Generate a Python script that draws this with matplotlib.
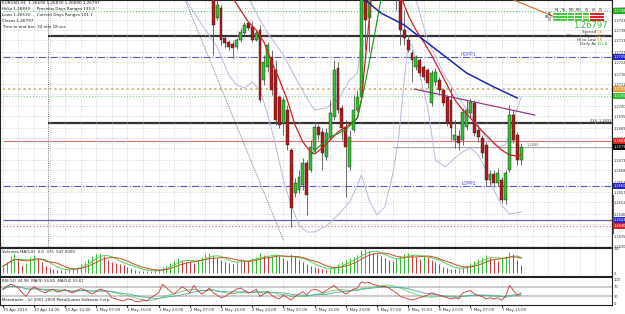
import numpy as np
import pandas as pd
import matplotlib
matplotlib.use("Agg")
import matplotlib.pyplot as plt
from matplotlib.patches import Rectangle

# ---- data (EURUSD H1) ----
first_bar = 54  # earlier candles are above the visible price range
opens = [1.27580, 1.27440, 1.27490, 1.27340, 1.27320, 1.27310, 1.27295, 1.27330, 1.27365, 1.27415,
         1.27395, 1.27330, 1.27380, 1.27130, 1.27195, 1.27245, 1.27180, 1.27045, 1.26915, 1.26980,
         1.26780, 1.26565, 1.26580, 1.26605, 1.26715, 1.26680, 1.26780, 1.26895, 1.26870, 1.26745,
         1.26845, 1.26945, 1.27190, 1.26990, 1.26895, 1.26695, 1.26880, 1.26980, 1.27045, 1.27830,
         1.27440, 1.27630, 1.27780, 1.27730, 1.27830, 1.27755, 1.27680, 1.27630, 1.27555, 1.27380,
         1.27330, 1.27265, 1.27195, 1.27230, 1.27195, 1.27180, 1.27015, 1.27120, 1.27130, 1.27080,
         1.27045, 1.27030, 1.26830, 1.26850, 1.26830, 1.26895, 1.26965, 1.27015, 1.26880, 1.26840,
         1.26805, 1.26630, 1.26660, 1.26615, 1.26630, 1.26530, 1.26680, 1.26955, 1.26855, 1.26730]
highs = [1.27655, 1.27530, 1.27505, 1.27350, 1.27330, 1.27325, 1.27340, 1.27390, 1.27420, 1.27425,
         1.27420, 1.27380, 1.27405, 1.27255, 1.27320, 1.27280, 1.27230, 1.27055, 1.27045, 1.27005,
         1.26790, 1.26640, 1.26680, 1.26740, 1.26730, 1.26830, 1.26920, 1.26910, 1.26890, 1.26890,
         1.27030, 1.27230, 1.27220, 1.27005, 1.26930, 1.26880, 1.27055, 1.27080, 1.27880, 1.27980,
         1.27730, 1.27830, 1.27905, 1.27880, 1.27930, 1.27830, 1.27780, 1.27705, 1.27605, 1.27480,
         1.27355, 1.27280, 1.27255, 1.27240, 1.27205, 1.27190, 1.27180, 1.27190, 1.27145, 1.27090,
         1.27055, 1.27090, 1.26930, 1.26880, 1.26990, 1.27030, 1.27040, 1.27030, 1.26905, 1.26855,
         1.26820, 1.26680, 1.26680, 1.26690, 1.26645, 1.26680, 1.27005, 1.26980, 1.26870, 1.26815]
lows = [1.27255, 1.27430, 1.27305, 1.27290, 1.27280, 1.27240, 1.27285, 1.27320, 1.27355, 1.27380,
        1.27320, 1.27325, 1.27020, 1.27105, 1.27170, 1.27055, 1.26905, 1.26890, 1.26855, 1.26780,
        1.26395, 1.26545, 1.26565, 1.26580, 1.26455, 1.26670, 1.26765, 1.26830, 1.26680, 1.26730,
        1.26830, 1.26930, 1.26965, 1.26830, 1.26545, 1.26680, 1.26870, 1.26970, 1.27030, 1.27280,
        1.27270, 1.27555, 1.27680, 1.27630, 1.27705, 1.27605, 1.27555, 1.27480, 1.27305, 1.27305,
        1.27270, 1.27120, 1.27180, 1.27150, 1.27130, 1.27090, 1.27000, 1.27105, 1.27055, 1.27000,
        1.26900, 1.26830, 1.26790, 1.26780, 1.26805, 1.26880, 1.26940, 1.26850, 1.26820, 1.26740,
        1.26600, 1.26605, 1.26595, 1.26600, 1.26515, 1.26510, 1.26670, 1.26815, 1.26705, 1.26705]
closes = [1.27405, 1.27505, 1.27330, 1.27315, 1.27295, 1.27290, 1.27330, 1.27370, 1.27405, 1.27390,
          1.27330, 1.27365, 1.27030, 1.27220, 1.27305, 1.27080, 1.26930, 1.26905, 1.27030, 1.26805,
          1.26490, 1.26615, 1.26645, 1.26715, 1.26555, 1.26795, 1.26895, 1.26855, 1.26765, 1.26865,
          1.26965, 1.27180, 1.26980, 1.26890, 1.26795, 1.26845, 1.26980, 1.27045, 1.27830, 1.27430,
          1.27630, 1.27780, 1.27730, 1.27830, 1.27755, 1.27680, 1.27630, 1.27555, 1.27380, 1.27340,
          1.27280, 1.27230, 1.27245, 1.27165, 1.27145, 1.27115, 1.27165, 1.27170, 1.27080, 1.27015,
          1.26915, 1.26890, 1.26855, 1.26815, 1.26970, 1.26980, 1.27020, 1.26865, 1.26845, 1.26765,
          1.26630, 1.26660, 1.26615, 1.26665, 1.26530, 1.26665, 1.26955, 1.26830, 1.26730, 1.26795]

# moving averages / bands on the price panel (bar index, price)
fast_ma_idx = [55, 59, 61, 63, 65, 67, 69, 71, 73, 75, 77, 79, 80, 82, 84, 86, 88, 90, 91, 92, 93, 94, 95, 98,
               100, 102, 104, 106, 108, 110, 112, 114, 116, 118, 120, 122, 124, 126, 128, 130, 132, 133]
fast_ma = [1.27680, 1.27540, 1.27480, 1.27420, 1.27380, 1.27320, 1.27220, 1.27130, 1.27030, 1.26905, 1.26820,
           1.26770, 1.26760, 1.26790, 1.26830, 1.26870, 1.26895, 1.26920, 1.26940, 1.27030, 1.27230, 1.27430,
           1.27630, 1.27730, 1.27680, 1.27555, 1.27455, 1.27380, 1.27320, 1.27255, 1.27180, 1.27105, 1.27030,
           1.26980, 1.26940, 1.26895, 1.26855, 1.26815, 1.26780, 1.26755, 1.26750, 1.26755]
green_ma_idx = [79, 81, 84, 88, 91, 93, 95, 97, 98]
green_ma = [1.26755, 1.26795, 1.26845, 1.26880, 1.26940, 1.27115, 1.27315, 1.27530, 1.27630]
slow_ma_idx = [91, 93, 97, 103, 108, 113, 119, 126, 132]
slow_ma = [1.27600, 1.27530, 1.27465, 1.27405, 1.27330, 1.27255, 1.27165, 1.27095, 1.27040]
bb_up_idx = [62, 66, 68, 72, 75, 78, 80, 83, 86, 89, 91, 92, 93, 104, 106, 109, 113, 117, 121, 124, 127, 129, 131, 133]
bb_up = [1.27580, 1.27430, 1.27365, 1.27255, 1.27145, 1.27040, 1.26980, 1.26990, 1.27030, 1.27130, 1.27165,
         1.27330, 1.27780, 1.27730, 1.27530, 1.27330, 1.27165, 1.27040, 1.26930, 1.26840, 1.26795, 1.26805,
         1.26930, 1.27045]
bb_lo_idx = [47, 52, 55, 58, 60, 62, 64, 66, 68, 70, 72, 74, 76, 78, 80, 83, 86, 89, 91, 92, 94, 96, 98, 100,
             101.5, 103, 104, 105, 107, 109, 111, 113.5, 116, 118, 120, 122, 124, 126, 128, 130, 133]
bb_lo = [1.27530, 1.27380, 1.27295, 1.27155, 1.27105, 1.27090, 1.27120, 1.27080, 1.26955, 1.26805, 1.26630,
         1.26505, 1.26405, 1.26370, 1.26370, 1.26400, 1.26455, 1.26520, 1.26605, 1.26655, 1.26530, 1.26455,
         1.26495, 1.26655, 1.26830, 1.27130, 1.27305, 1.27305, 1.27155, 1.26995, 1.26730, 1.26695, 1.26740,
         1.26770, 1.26790, 1.26755, 1.26680, 1.26580, 1.26505, 1.26460, 1.26470]
diag_idx = [46.8, 72.0]
diag_px = [1.27530, 1.26330]
orange_idx = [128.0, 141.7]
orange_px = [1.27555, 1.27445]

# horizontal levels: price, colour, style, width, starts at bar, axis label colour
levels = [(1.27475, "#66bb66", ":", 0.8, 0, "#22aa22"), (1.27350, "#333333", "-", 1.6, 11.5, None),
          (1.27245, "#5555cc", "-.", 0.8, 0, "#2222cc"), (1.27085, "#e0b070", ":", 1.4, 0, "#e0a040"),
          (1.27050, "#88cc88", ":", 0.8, 0, "#33bb33"), (1.26915, "#333333", "-", 1.6, 11.5, None),
          (1.26825, "#e07070", "-", 0.8, 0, "#dd2222"), (1.26795, "#999999", "-", 0.6, 100, "#000000"),
          (1.26600, "#5555cc", "-.", 0.8, 0, "#2222cc"), (1.26430, "#6060b0", "-", 0.9, 0, "#2222cc"),
          (1.26400, "#d08080", ":", 0.9, 0, "#dd2222")]
trend_idx = [105.5, 136.5]
trend_px = [1.27085, 1.26955]

price_ticks = [1.2630, 1.2635, 1.2641, 1.2646, 1.2652, 1.2657, 1.2662, 1.2668, 1.2673, 1.2679,
               1.2684, 1.2689, 1.2695, 1.2700, 1.2706, 1.2711, 1.2716, 1.2722, 1.2727, 1.2733,
               1.2738, 1.2743, 1.2749]

volumes = [150, 260, 380, 420, 300, 180, 220, 350, 400, 330,
           250, 160, 120, 90, 80, 70, 60, 90, 110, 150,
           200, 260, 320, 390, 420, 460, 380, 300, 260, 230,
           200, 180, 150, 120, 80, 60, 50, 40, 60, 70,
           90, 130, 170, 220, 280, 340, 300, 260, 250, 230,
           300, 360, 420, 450, 380, 330, 290, 250, 230, 200,
           260, 320, 300, 280, 330, 350, 440, 400, 360, 390,
           420, 380, 330, 300, 420, 380, 300, 250, 200, 160,
           130, 110, 90, 80, 100, 150, 200, 250, 300, 330,
           360, 400, 520, 540, 500, 460, 420, 380, 340, 300,
           280, 320, 380, 420, 450, 400, 360, 320, 380, 350,
           300, 250, 200, 150, 120, 100, 90, 110, 140, 180,
           230, 280, 320, 360, 400, 350, 300, 280, 330, 380,
           480, 420, 300, 180]

rsi = [60, 72, 80, 75, 65, 45, 30, 55, 70, 60,
       50, 45, 55, 60, 48, 52, 58, 50, 45, 55,
       62, 58, 48, 40, 52, 60, 55, 45, 25, 20,
       15, 12, 20, 18, 10, 8, 15, 12, 25, 35,
       45, 80, 65, 50, 40, 55, 70, 60, 45, 75,
       55, 40, 50, 65, 45, 35, 25, 30, 40, 50,
       60, 65, 55, 45, 50, 60, 30, 40, 50, 35,
       25, 20, 35, 25, 15, 30, 40, 50, 35, 55,
       60, 55, 45, 55, 65, 75, 60, 50, 40, 50,
       60, 65, 90, 85, 88, 80, 75, 70, 72, 65,
       55, 45, 30, 25, 20, 15, 20, 25, 30, 35,
       45, 40, 35, 30, 25, 20, 25, 20, 45, 50,
       55, 40, 35, 30, 20, 25, 20, 25, 15, 30,
       75, 55, 35, 45]

time_labels = ["30 Apr 2013", "30 Apr 14:00", "30 Apr 22:00", "1 May 07:00", "1 May 15:00",
               "1 May 23:00", "2 May 07:00", "2 May 15:00", "2 May 23:00", "3 May 07:00",
               "3 May 15:00", "3 May 23:00", "6 May 07:00", "6 May 15:00", "6 May 23:00",
               "7 May 07:00", "7 May 15:00"]

# multi-timeframe table in the top right corner
tf_names = ["M1", "M5", "M15", "M30", "H1", "H4", "D1"]
tf_rows = ["MA", "MACD", "CCI"]
tf_signal = [[1, 1, 1, 1, 1, -1, -1],
             [1, 1, 1, 1, 0, -1, -1],
             [1, 1, 1, 1, 1, -1, -1]]

# ---- figure ----
W, H = 625, 314
fig = plt.figure(figsize=(W / 100, H / 100), dpi=100)


def box(x0, y0, x1, y1):
    return [x0 / W, 1 - y1 / H, (x1 - x0) / W, (y1 - y0) / H]


ax = fig.add_axes(box(0, 0, 612, 247))
axv = fig.add_axes(box(0, 248, 612, 276))
axr = fig.add_axes(box(0, 277, 612, 305))
xlim = (-0.7, 156.3)

for a in (ax, axv, axr):
    a.set_xlim(*xlim)
    a.set_facecolor("white")
    a.tick_params(length=0, labelsize=2.6, pad=1.2, labelcolor="#333333")
    for s in a.spines.values():
        s.set_color("#222222")
        s.set_linewidth(0.8)
    a.set_xticks(np.arange(0, 157, 4))
    a.grid(True, axis="x", color="#c4c4c4", linestyle=(0, (1, 1.5)), linewidth=0.5)
    a.set_xticklabels([])
    a.yaxis.tick_right()

# price panel
ax.set_ylim(1.26295, 1.27530)
ax.set_yticks(price_ticks)
ax.set_yticklabels([f"{p:.4f}" for p in price_ticks])
ax.grid(True, axis="y", color="#c4c4c4", linestyle=(0, (1, 1.5)), linewidth=0.5)
ax.axvline(11.5, color="#777777", linestyle=(0, (1, 1.2)), linewidth=0.7, zorder=1)
ytrans = ax.get_yaxis_transform()

for p, c, ls, lw, x0, lab in levels:
    ax.hlines(p, x0, xlim[1], colors=c, linestyles=ls, linewidth=lw, zorder=1)
    if lab:
        ax.text(1.003, p, f"{p:.4f}", transform=ytrans, fontsize=2.6, va="center",
                ha="left", color="white", clip_on=False,
                bbox=dict(boxstyle="square,pad=0.15", fc=lab, ec="none"))

idx = np.arange(first_bar, first_bar + len(opens))
o, h, l, c = map(np.array, (opens, highs, lows, closes))
up = c >= o
ax.vlines(idx, l, h, color="#555555", linewidth=0.6, zorder=3)
ax.bar(idx[up], (c - o)[up], bottom=o[up], width=0.75, color="#2ec52e", edgecolor="#1a1a1a",
       linewidth=0.3, zorder=4)
ax.bar(idx[~up], (c - o)[~up], bottom=o[~up], width=0.75, color="#b81818", edgecolor="#1a1a1a",
       linewidth=0.3, zorder=4)

ax.plot(diag_idx, diag_px, color="#555555", linestyle=(0, (1, 1.3)), linewidth=0.6, zorder=2)
ax.plot(bb_up_idx, bb_up, color="#b8b8e0", linewidth=0.7, zorder=2)
ax.plot(bb_lo_idx, bb_lo, color="#b8b8e0", linewidth=0.7, zorder=2)
ax.plot(fast_ma_idx, fast_ma, color="#cc2222", linewidth=0.9, zorder=5)
ax.plot(green_ma_idx, green_ma, color="#119911", linewidth=0.8, zorder=5)
ax.plot(slow_ma_idx, slow_ma, color="#1a2aa8", linewidth=1.1, zorder=5)
ax.plot(trend_idx, trend_px, color="#8a2a7a", linewidth=0.8, zorder=5)
ax.plot(orange_idx, orange_px, color="#d07030", linewidth=0.8, zorder=5)

# header text
hdr = ["EURUSD,H1  1.26690 1.26830 1.26690 1.26797",
       "Hi/Lo 1.26830  -  Previous Days Ranges 135.3",
       "Lows 1.26510  -  Current Days Ranges 101.7",
       "Closes 1.26797",
       "Time to end bar: 34 min 18 sec"]
for k, t in enumerate(hdr):
    ax.text(0.004, 0.995 - k * 0.024, t, transform=ax.transAxes, fontsize=3.0, va="top", color="#222222")

ax.text(119.5, 1.27245, "HOPP1", fontsize=3.3, color="#5555cc", va="bottom", ha="center")
ax.text(119.5, 1.26600, "LOPP1", fontsize=3.3, color="#5555cc", va="bottom", ha="center")
ax.text(134.3, 1.26795, "1.2680", fontsize=2.6, color="#666666", va="bottom")
ax.text(0.999, 1.26915, "214  1.2692", transform=ytrans, fontsize=2.6, color="#333333",
        va="bottom", ha="right")

# multi-timeframe table
cw, ch, cx0, cy0 = 7.4, 2.9, 553, 12.5
for j, name in enumerate(tf_names):
    fig.text((cx0 + j * cw + cw / 2) / W, 1 - (cy0 - 0.4) / H, name, fontsize=2.1, ha="center",
             va="bottom", color="#333333")
for r, row in enumerate(tf_rows):
    fig.text((cx0 - 0.8) / W, 1 - (cy0 + r * ch + ch / 2) / H, row, fontsize=1.9, ha="right", va="center",
             color="#333333")
    for j, s in enumerate(tf_signal[r]):
        col = {1: "#44cc44", 0: "#99dd66", -1: "#dd2222"}[s]
        fig.patches.append(Rectangle(((cx0 + j * cw) / W, 1 - (cy0 + (r + 1) * ch) / H),
                                     (cw - 0.9) / W, (ch - 0.5) / H, transform=fig.transFigure,
                                     fc=col, ec="none"))
fig.text(608 / W, 1 - 25.5 / H, "1.26797", fontsize=6, ha="right", va="center", color="#33bb33")
info = [("Spread ", "1.8"), ("Close to Open ", "41.3"), ("Hi to Low ", "5.6"), ("Daily Av ", "101.8")]
for k, (lab, val) in enumerate(info):
    yy = 1 - (32 + k * 4.0) / H
    fig.text(597 / W, yy, lab, fontsize=2.9, ha="right", va="center", color="#333333")
    fig.text(597 / W, yy, val, fontsize=2.9, ha="left", va="center", color="#e09030" if k < 3 else "#33bb33")

# red range marker on the price scale
fig.add_artist(plt.Line2D([613.2 / W, 613.2 / W], [1 - 195 / H, 1 - 233 / H], color="#dd2222", linewidth=0.8))

# volume panel
axv.set_ylim(-60, 560)
axv.set_yticks([547, 0])
vol = np.array(volumes)
vup = np.r_[True, vol[1:] >= vol[:-1]]
xs = np.arange(len(vol))
axv.vlines(xs[vup], 0, vol[vup], color="#33bb33", linewidth=0.7)
axv.vlines(xs[~vup], 0, vol[~vup], color="#cc3333", linewidth=0.7)
vs = pd.Series(vol, dtype=float)
axv.plot(xs, vs.rolling(5, min_periods=1).mean(), color="#55cc55", linewidth=0.7)
axv.plot(xs, vs.rolling(8, min_periods=1).mean(), color="#c05020", linewidth=0.7)
axv.text(0.004, 0.93, "Volumes MA(5,8)  0.0  375  547.0000", transform=axv.transAxes, fontsize=2.8,
         va="top", color="#222222")

# rsi panel
axr.set_ylim(-5, 110)
axr.set_yticks([100, 70, 30, 0])
for lvl in (70, 30):
    axr.axhline(lvl, color="#cccccc", linewidth=1.4, zorder=0)
rs = pd.Series(rsi, dtype=float)
xr = np.arange(len(rsi))
axr.plot(xr, rs.rolling(9, min_periods=1).mean(), color="#66cc66", linewidth=0.6)
axr.plot(xr, rs.rolling(14, min_periods=1).mean(), color="#44aaaa", linewidth=0.6)
axr.plot(xr, rs, color="#cc3333", linewidth=0.6)
axr.text(0.004, 0.93, "RSI(14) 44.98  MA(9) 54.60  MA(14) 53.61", transform=axr.transAxes,
         fontsize=2.8, va="top", color="#222222")
axr.text(0.004, 0.1, "Metatrader - (c) 2001-2009 MetaQuotes Software Corp.", transform=axr.transAxes,
         fontsize=2.8, va="bottom", color="#222222")

tick_pos = np.arange(0, 8 * len(time_labels), 8)
axr.set_xticks(tick_pos)
axr.set_xticklabels(time_labels, fontsize=2.8, ha="left")
axr.tick_params(axis="x", length=1.5, pad=1)

fig.savefig("out.png", dpi=100)
